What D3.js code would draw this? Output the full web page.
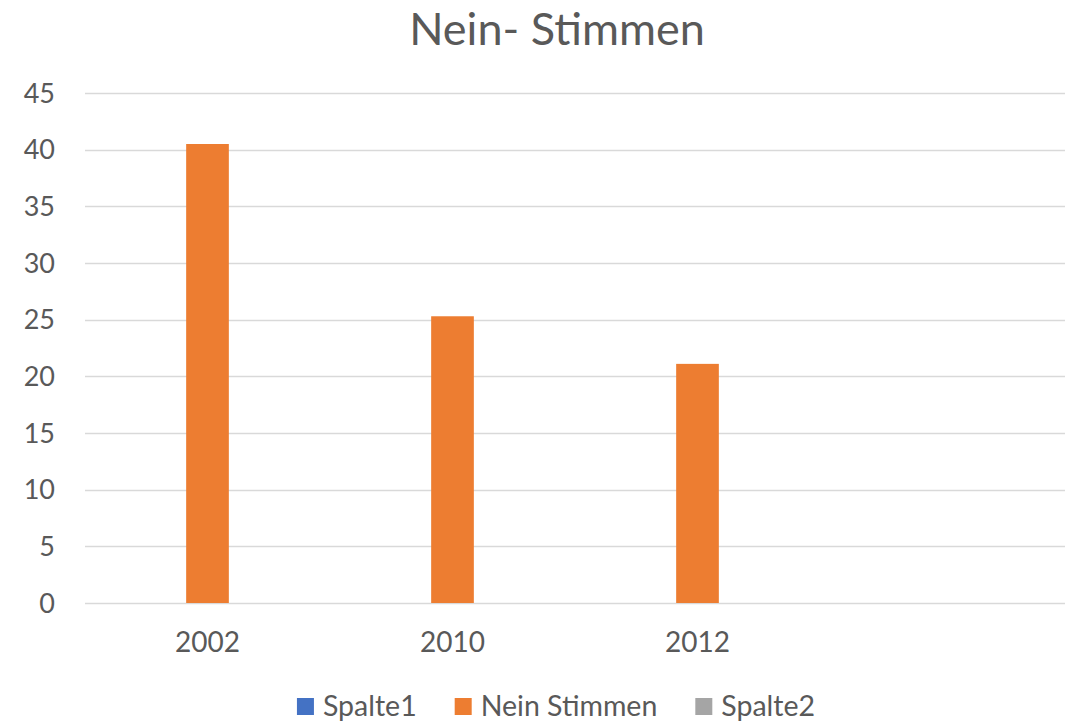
<!DOCTYPE html>
<html>
<head>
<meta charset="utf-8">
<script src="https://cdn.jsdelivr.net/npm/d3@7"></script>
<style>
  body { margin: 0; background: #fff; }
  text { font-family: Lato, "Open Sans", sans-serif; fill: #595959; }
</style>
</head>
<body>
<div id="root"></div>
<script>
const width = 1071;
const height = 723;

// data
const categories = ['2002', '2010', '2012', ''];
const seriesNames = ['Spalte1', 'Nein Stimmen', 'Spalte2'];
const seriesColors = ['#4472C4', '#ED7D31', '#A5A5A5'];
const spalte1 = [null, null, null, null];
const neinStimmen = [40.5, 25.3, 21.1, null];
const spalte2 = [null, null, null, null];
const yTicks = [0, 5, 10, 15, 20, 25, 30, 35, 40, 45];

const seriesValues = [spalte1, neinStimmen, spalte2];
const margin = {left: 85, right: 6, top: 93, bottom: 120};

const svg = d3.select('#root')
    .append('svg')
    .attr('width', width)
    .attr('height', height);

const x = d3.scaleBand()
    .domain(categories.map((c, i) => i))
    .range([margin.left, width - margin.right]);

const xInner = d3.scaleBand()
    .domain(seriesNames)
    .range([0, x.bandwidth()])
    .paddingOuter(1.37);

const y = d3.scaleLinear()
    .domain([0, 45])
    .range([height - margin.bottom, margin.top]);

// title
svg.append('text')
    .attr('x', 557)
    .attr('y', 45)
    .attr('text-anchor', 'middle')
    .style('font-size', '45px')
    .text('Nein- Stimmen');

// grid
svg.append('g')
    .selectAll('line')
    .data(yTicks)
    .join('line')
    .attr('x1', margin.left)
    .attr('x2', width - margin.right)
    .attr('y1', d => Math.round(y(d)) + 0.5)
    .attr('y2', d => Math.round(y(d)) + 0.5)
    .attr('stroke', '#D9D9D9')
    .attr('stroke-width', 1.5);

// y tick labels
svg.append('g')
    .selectAll('text')
    .data(yTicks)
    .join('text')
    .attr('x', 55)
    .attr('y', d => y(d))
    .attr('dy', '0.36em')
    .attr('text-anchor', 'end')
    .style('font-size', '27px')
    .text(d => d);

// x labels
svg.append('g')
    .selectAll('text')
    .data(categories)
    .join('text')
    .attr('x', (d, i) => x(i) + x.bandwidth() / 2)
    .attr('y', 652)
    .attr('text-anchor', 'middle')
    .style('font-size', '28px')
    .text(d => d);

// bars
const bars = [];
seriesValues.forEach((vals, s) => {
    vals.forEach((v, i) => {
        if (v != null) bars.push({s, i, v});
    });
});
svg.append('g')
    .selectAll('rect')
    .data(bars)
    .join('rect')
    .attr('x', d => x(d.i) + xInner(seriesNames[d.s]))
    .attr('width', xInner.bandwidth())
    .attr('y', d => y(d.v))
    .attr('height', d => y(0) - y(d.v))
    .attr('fill', d => seriesColors[d.s]);

// legend
const legend = svg.append('g');
const items = legend.selectAll('g')
    .data(seriesNames)
    .join('g');
items.append('rect')
    .attr('width', 17)
    .attr('height', 17)
    .attr('y', -18)
    .attr('fill', (d, i) => seriesColors[i]);
items.append('text')
    .attr('x', 26)
    .style('font-size', '28.5px')
    .text(d => d);
const widths = [];
items.each(function () {
    widths.push(26 + this.querySelector('text').getComputedTextLength());
});
const gap = 38;
const total = d3.sum(widths) + gap * (widths.length - 1);
let cx = 556 - total / 2;
items.attr('transform', (d, i) => {
    const t = `translate(${cx},716)`;
    cx += widths[i] + gap;
    return t;
});
</script>
</body>
</html>
